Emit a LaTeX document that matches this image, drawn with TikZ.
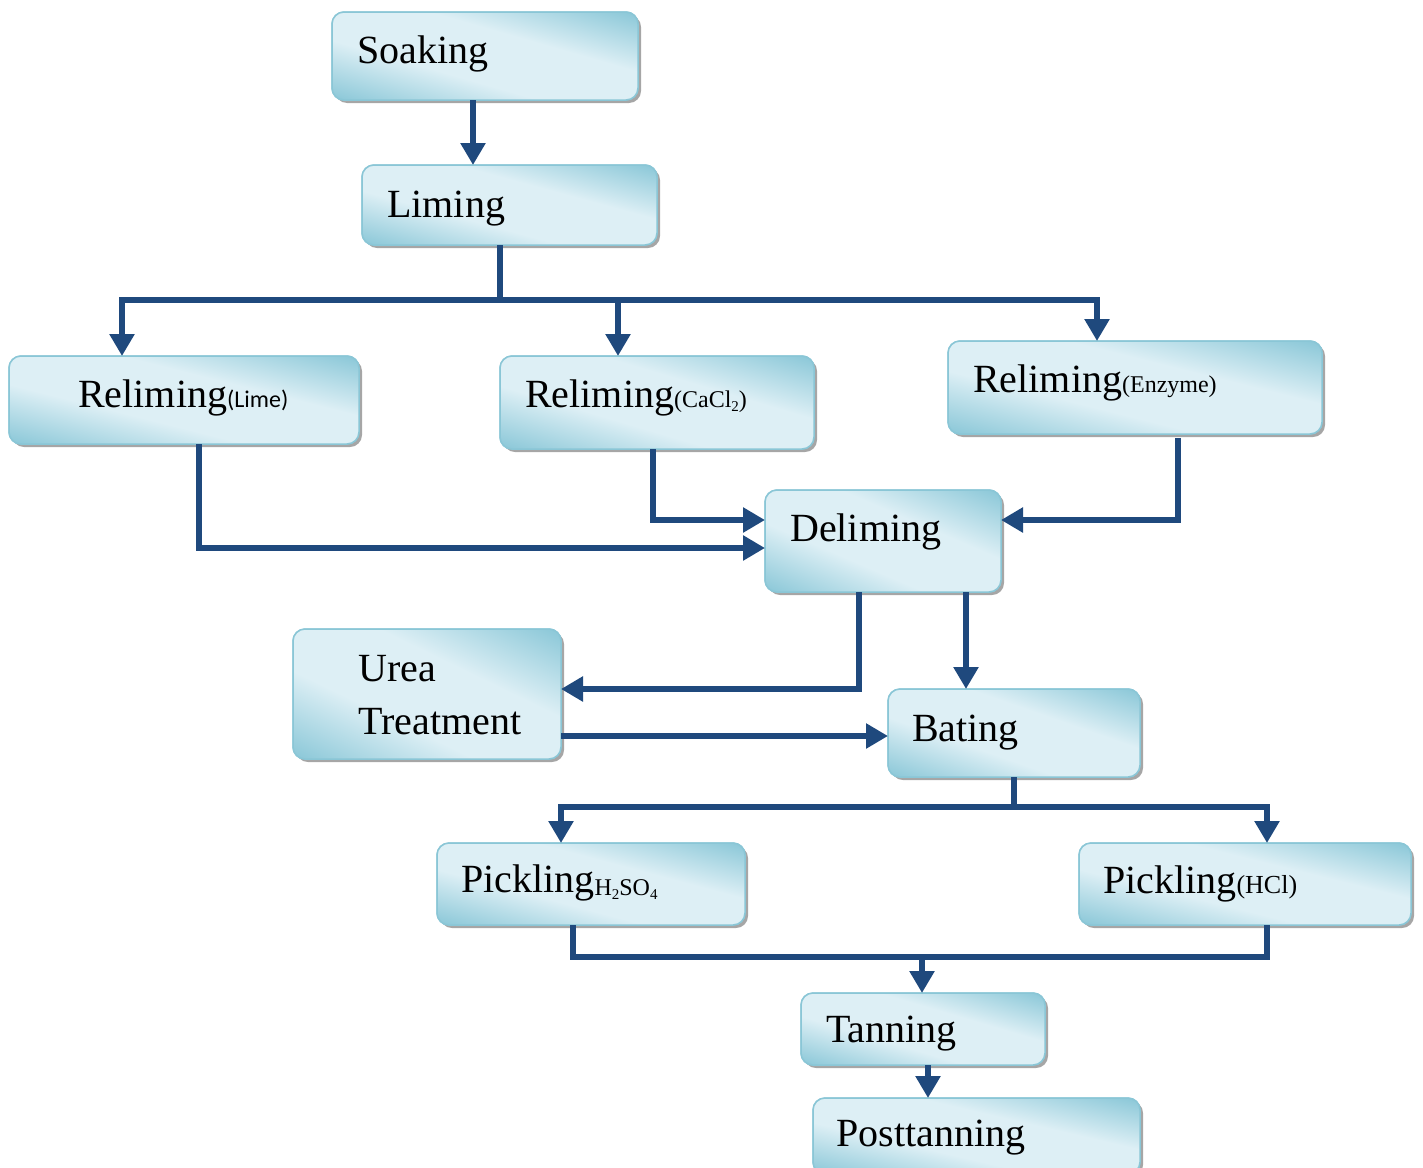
\documentclass[tikz,border=0pt]{standalone}
\usepackage{fontspec}
\setmainfont{Liberation Serif}
\newfontfamily\calibfont{Carlito}
\usetikzlibrary{arrows.meta,shadows,calc}
\definecolor{arrblue}{RGB}{31,73,125}
\definecolor{boxdark}{RGB}{142,201,217}
\definecolor{boxlight}{RGB}{221,239,245}
\definecolor{boxline}{RGB}{138,198,214}
\pgfdeclareverticalshading{boxshade}{100bp}{color(0bp)=(boxdark); color(38bp)=(boxdark); color(46bp)=(boxlight); color(54bp)=(boxlight); color(62bp)=(boxdark); color(100bp)=(boxdark)}
% diagonal gradient laid over a box: light band from top-left to bottom-right corner
\newcommand\overlayshade[1]{%
  \pgfpointdiff{\pgfpointanchor{#1}{south west}}{\pgfpointanchor{#1}{north east}}%
  \pgfgetlastxy{\bxw}{\bxh}%
  \pgfmathsetmacro\bxang{atan2(\bxh,\bxw)}%
  \pgfmathsetmacro\bxH{2*\bxh*cos(\bxang)}%
  \begin{scope}
    \clip[rounded corners=12pt] (#1.south west) rectangle (#1.north east);
    \shade[shading=boxshade, transform canvas={rotate around={-\bxang:(#1.center)}}]
      ([xshift=-320pt, yshift=-\bxH pt]#1.center) rectangle ([xshift=320pt, yshift=\bxH pt]#1.center);
  \end{scope}
  \draw[boxedge] (#1.south west) rectangle (#1.north east);}
\newcommand\smtxt{\fontsize{24}{28}\selectfont}
\newcommand\lowsub[1]{\raisebox{-4pt}{\fontsize{15}{17}\selectfont #1}}
\begin{document}
\begin{tikzpicture}[x=1pt,y=-1pt,
  boxedge/.style={draw=boxline, line width=1.5pt, rounded corners=12pt},
  box/.style={boxedge, fill=boxlight, outer sep=0pt, inner sep=0pt,
    drop shadow={shadow xshift=3pt, shadow yshift=-3pt, fill=black!50, opacity=0.7}},
  lbl/.style={anchor=base west, inner sep=0pt, font=\fontsize{40}{48}\selectfont},
  link/.style={draw=arrblue, line width=6.5pt},
  arr/.style={link, -{Triangle[width=24pt,length=22pt]}}]
\useasboundingbox (0,0) rectangle (1423,1167);
\clip (0,0) rectangle (1423,1167);

% boxes
\node[box, minimum width=306pt, minimum height=88pt] (soak) at (485,56) {};
\node[box, minimum width=295pt, minimum height=80pt] (lime) at (509.5,205) {};
\node[box, minimum width=350pt, minimum height=88pt] (rlime) at (184,400) {};
\node[box, minimum width=314pt, minimum height=93pt] (rcacl) at (657,402.5) {};
\node[box, minimum width=374pt, minimum height=93pt] (renz) at (1135,387.5) {};
\node[box, minimum width=236pt, minimum height=102pt] (delim) at (883,541) {};
\node[box, minimum width=268pt, minimum height=130pt] (urea) at (427,694) {};
\node[box, minimum width=252pt, minimum height=88pt] (bate) at (1014,733) {};
\node[box, minimum width=308pt, minimum height=82pt] (pick1) at (591,884) {};
\node[box, minimum width=332pt, minimum height=82pt] (pick2) at (1245,884) {};
\node[box, minimum width=244pt, minimum height=72pt] (tan) at (923,1029) {};
\node[box, minimum width=327pt, minimum height=76pt] (post) at (976.5,1136) {};

\overlayshade{soak}
\overlayshade{lime}
\overlayshade{rlime}
\overlayshade{rcacl}
\overlayshade{renz}
\overlayshade{delim}
\overlayshade{urea}
\overlayshade{bate}
\overlayshade{pick1}
\overlayshade{pick2}
\overlayshade{tan}
\overlayshade{post}

% texts
\node[lbl] (soakT) at (357,63) {Soaking};
\node[lbl] (limeT) at (387,217) {Liming};
\node[lbl] (rlimeT) at (78,407) {Reliming{\calibfont\smtxt(Lime)}};
\node[lbl] (rcaclT) at (525,407) {Reliming{\smtxt(CaCl\lowsub{2})}};
\node[lbl] (renzT) at (973,392) {Reliming{\smtxt(Enzyme)}};
\node[lbl] (delimT) at (790,541) {Deliming};
\node[lbl] (ureaT1) at (358,681) {Urea};
\node[lbl] (ureaT2) at (358,734) {Treatment};
\node[lbl] (bateT) at (912,741) {Bating};
\node[lbl] (pick1T) at (461,892) {Pickling\raisebox{-3pt}{\smtxt H\lowsub{2}SO\lowsub{4}}};
\node[lbl] (pick2T) at (1103,893) {Pickling{\fontsize{26}{30}\selectfont(HCl)}};
\node[lbl] (tanT) at (826,1042) {Tanning};
\node[lbl] (postT) at (836,1146) {Posttanning};

% junction points
\coordinate (bus1) at (500,300);
\coordinate (bus2) at (1014,807);
\coordinate (bus3) at (922,957);

% connectors
\draw[arr] ([xshift=-12pt]soak.south) -- ([xshift=-12pt]soak.south |- lime.north);
\draw[link] ([xshift=-9.5pt]lime.south) -- (bus1);
\draw[arr] (bus1) -| ([xshift=-62pt]rlime.north);
\draw[arr] (bus1) -| ([xshift=-39pt]rcacl.north);
\draw[arr] (bus1) -| ([xshift=-38pt]renz.north);

\draw[arr] ([xshift=15pt]rlime.south) |- ([yshift=-7pt]delim.west);
\draw[arr] ([xshift=-4pt]rcacl.south) |- ([yshift=21pt]delim.west);
\draw[arr] ([xshift=43pt,yshift=-4pt]renz.south) |- ([yshift=21pt]delim.east);

\draw[arr] ([xshift=-24pt]delim.south) |- ([yshift=5pt]urea.east);
\draw[arr] ([xshift=83pt]delim.south) -- ([xshift=83pt]delim.south |- bate.north);
\draw[arr] ([yshift=-42pt]urea.east) -- ([yshift=-42pt]urea.east -| bate.west);

\draw[link] (bate.south) -- (bus2);
\draw[arr] (bus2) -| ([xshift=-30pt]pick1.north);
\draw[arr] (bus2) -| ([xshift=22pt]pick2.north);

\draw[link] ([xshift=-18pt]pick1.south) |- (bus3);
\draw[link] ([xshift=22pt]pick2.south) |- (bus3);
\draw[arr] (bus3) -- (bus3 |- tan.north);
\draw[arr] ([xshift=5pt]tan.south) -- ([xshift=5pt]tan.south |- post.north);
\end{tikzpicture}
\end{document}
